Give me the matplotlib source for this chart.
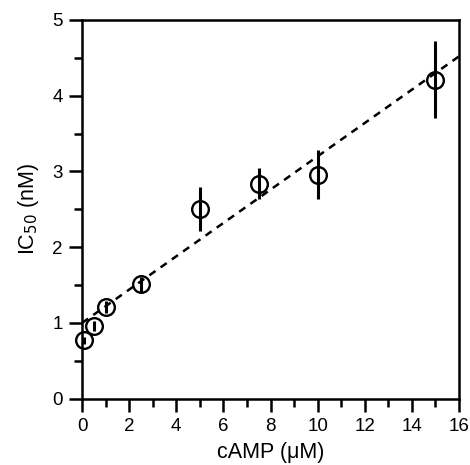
import numpy as np
import matplotlib
matplotlib.use('Agg')
import matplotlib.pyplot as plt
from matplotlib.ticker import MultipleLocator

plt.rcParams['font.family'] = ['Liberation Sans', 'DejaVu Sans']
plt.rcParams['font.size'] = 13.5

# cAMP concentration (uM) vs IC50 (nM)
camp = [0.1, 0.5, 1.0, 2.5, 5.0, 7.5, 10.0, 15.0]
ic50 = [0.77, 0.96, 1.21, 1.51, 2.51, 2.84, 2.96, 4.21]
ic50_err = [0.05, 0.07, 0.08, 0.10, 0.29, 0.21, 0.32, 0.51]

# linear fit drawn as dashed line
fit_slope = 0.22
fit_intercept = 1.0

fig = plt.figure(figsize=[4.7, 4.65], dpi=100, facecolor='white')
ax = fig.add_axes([0.1745, 0.1426, 0.8021, 0.8144])

xfit = np.array([0.0, 16.0])
ax.plot(xfit, fit_intercept + fit_slope * xfit, color='black', lw=1.8,
        linestyle=(0, (3.0, 2.5)), zorder=1)
ax.errorbar(camp, ic50, yerr=ic50_err, fmt='o', mfc='none', mec='black',
            ms=12, mew=1.7, ecolor='black', elinewidth=2.2, capsize=0,
            zorder=3, clip_on=False)

ax.set_xlim(0, 16)
ax.set_ylim(0, 5)
ax.xaxis.set_major_locator(MultipleLocator(2))
ax.xaxis.set_minor_locator(MultipleLocator(1))
ax.yaxis.set_major_locator(MultipleLocator(1))
ax.yaxis.set_minor_locator(MultipleLocator(0.5))
ax.tick_params(which='major', direction='out', length=9.5, width=1.8, pad=4.5)
ax.tick_params(which='minor', direction='out', length=6, width=1.8)
for s in ax.spines.values():
    s.set_linewidth(1.8)

ax.set_xlabel('cAMP (\u03bcM)', fontsize=15.5, labelpad=5)
ax.set_ylabel('IC$_{50}$ (nM)', fontsize=15.5, labelpad=8)

fig.savefig('out.png', dpi=100)
